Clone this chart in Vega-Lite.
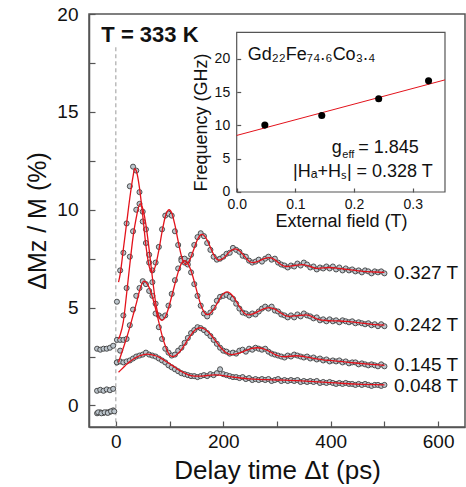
{
"$schema": "https://vega.github.io/schema/vega-lite/v6.json",
"width": 376, "height": 413,
"autosize": {"type": "none"},
"padding": {"left": 89, "top": 14, "right": 1, "bottom": 60},
"background": "white",
"config": {
 "font": "Liberation Sans",
 "view": {"stroke": "#555", "strokeWidth": 1.5},
 "axis": {"grid": false, "domainColor": "#555", "domainWidth": 1.5, "tickColor": "#555", "tickWidth": 1.2, "labelColor": "#111", "titleColor": "#111", "labelFont": "Liberation Sans", "titleFont": "Liberation Sans", "titleFontWeight": "normal"}
},
"datasets": {
 "rule": [{"t": 0, "v": 18.3, "v2": -1.1}],
 "lab": [{"t": 518, "v": 6.78, "txt": "0.327 T"}, {"t": 518, "v": 4.13, "txt": "0.242 T"}, {"t": 518, "v": 2.08, "txt": "0.145 T"}, {"t": 518, "v": 1.0, "txt": "0.048 T"}],
 "ttl": [{"t": -27, "v": 18.59, "txt": "T = 333 K"}],
 "pts": [
{"s":"A","t":-35,"v":2.9},{"s":"A","t":-29,"v":2.85},{"s":"A","t":-23,"v":2.9},{"s":"A","t":-17,"v":2.9},{"s":"A","t":-11,"v":2.95},{"s":"A","t":-5,"v":3.05},
{"s":"A","t":2,"v":5.3},{"s":"A","t":8,"v":6.9},{"s":"A","t":14,"v":7.8},{"s":"A","t":20,"v":9.3},{"s":"A","t":26,"v":11.2},{"s":"A","t":32,"v":12.2},{"s":"A","t":38,"v":12.0},{"s":"A","t":44,"v":10.9},{"s":"A","t":50,"v":9.4},{"s":"A","t":56,"v":8.3},{"s":"A","t":62,"v":7.3},{"s":"A","t":68,"v":6.9},{"s":"A","t":74,"v":7.3},{"s":"A","t":80,"v":8.1},{"s":"A","t":86,"v":9.0},{"s":"A","t":92,"v":9.7},{"s":"A","t":98,"v":9.8},{"s":"A","t":104,"v":9.7},{"s":"A","t":110,"v":8.9},{"s":"A","t":116,"v":8.2},{"s":"A","t":122,"v":7.5},{"s":"A","t":128,"v":7.3},{"s":"A","t":134,"v":7.4},{"s":"A","t":140,"v":7.7},{"s":"A","t":146,"v":8.2},{"s":"A","t":152,"v":8.6},{"s":"A","t":158,"v":8.8},{"s":"A","t":164,"v":8.65},{"s":"A","t":170,"v":8.3},{"s":"A","t":176,"v":7.95},{"s":"A","t":182,"v":7.6},{"s":"A","t":188,"v":7.45},{"s":"A","t":194,"v":7.5},{"s":"A","t":200,"v":7.6},{"s":"A","t":206,"v":7.75},{"s":"A","t":212,"v":7.8},{"s":"A","t":218,"v":8.05},{"s":"A","t":224,"v":7.95},{"s":"A","t":230,"v":7.85},{"s":"A","t":236,"v":7.65},{"s":"A","t":242,"v":7.6},{"s":"A","t":248,"v":7.4},{"s":"A","t":254,"v":7.3},{"s":"A","t":260,"v":7.35},{"s":"A","t":266,"v":7.45},{"s":"A","t":272,"v":7.35},{"s":"A","t":278,"v":7.5},{"s":"A","t":284,"v":7.6},{"s":"A","t":290,"v":7.45},{"s":"A","t":296,"v":7.5},{"s":"A","t":302,"v":7.3},{"s":"A","t":308,"v":7.2},{"s":"A","t":314,"v":7.15},{"s":"A","t":320,"v":7.05},{"s":"A","t":326,"v":7.15},{"s":"A","t":332,"v":7.1},{"s":"A","t":338,"v":7.25},{"s":"A","t":344,"v":7.15},{"s":"A","t":350,"v":7.3},{"s":"A","t":356,"v":7.2},{"s":"A","t":362,"v":7.05},{"s":"A","t":368,"v":7.1},{"s":"A","t":374,"v":6.95},{"s":"A","t":380,"v":7.05},{"s":"A","t":386,"v":7.0},{"s":"A","t":392,"v":7.1},{"s":"A","t":398,"v":7.0},{"s":"A","t":404,"v":7.1},{"s":"A","t":410,"v":6.95},{"s":"A","t":416,"v":7.05},{"s":"A","t":422,"v":6.9},{"s":"A","t":428,"v":7.0},{"s":"A","t":434,"v":6.9},{"s":"A","t":440,"v":6.95},{"s":"A","t":446,"v":6.85},{"s":"A","t":452,"v":6.9},{"s":"A","t":458,"v":6.8},{"s":"A","t":464,"v":6.9},{"s":"A","t":470,"v":6.85},{"s":"A","t":476,"v":6.75},{"s":"A","t":482,"v":6.85},{"s":"A","t":488,"v":6.8},{"s":"A","t":494,"v":6.85},{"s":"A","t":500,"v":6.75},
{"s":"B","t":-35,"v":0.75},{"s":"B","t":-29,"v":0.8},{"s":"B","t":-23,"v":0.75},{"s":"B","t":-17,"v":0.82},{"s":"B","t":-11,"v":0.78},{"s":"B","t":-5,"v":0.85},
{"s":"B","t":2,"v":3.35},{"s":"B","t":8,"v":3.35},{"s":"B","t":14,"v":4.6},{"s":"B","t":20,"v":6.0},{"s":"B","t":26,"v":7.6},{"s":"B","t":32,"v":8.9},{"s":"B","t":38,"v":10.0},{"s":"B","t":44,"v":10.3},{"s":"B","t":50,"v":9.9},{"s":"B","t":56,"v":9.0},{"s":"B","t":62,"v":7.7},{"s":"B","t":68,"v":6.3},{"s":"B","t":74,"v":5.2},{"s":"B","t":80,"v":4.6},{"s":"B","t":86,"v":4.5},{"s":"B","t":92,"v":4.6},{"s":"B","t":98,"v":5.1},{"s":"B","t":104,"v":5.7},{"s":"B","t":110,"v":6.4},{"s":"B","t":116,"v":7.0},{"s":"B","t":122,"v":7.4},{"s":"B","t":128,"v":7.5},{"s":"B","t":134,"v":7.2},{"s":"B","t":140,"v":6.8},{"s":"B","t":146,"v":6.2},{"s":"B","t":152,"v":5.6},{"s":"B","t":158,"v":5.1},{"s":"B","t":164,"v":4.7},{"s":"B","t":170,"v":4.55},{"s":"B","t":176,"v":4.75},{"s":"B","t":182,"v":5.0},{"s":"B","t":188,"v":5.35},{"s":"B","t":194,"v":5.55},{"s":"B","t":200,"v":5.6},{"s":"B","t":206,"v":5.65},{"s":"B","t":212,"v":5.55},{"s":"B","t":218,"v":5.45},{"s":"B","t":224,"v":5.2},{"s":"B","t":230,"v":4.95},{"s":"B","t":236,"v":4.75},{"s":"B","t":242,"v":4.7},{"s":"B","t":248,"v":4.6},{"s":"B","t":254,"v":4.7},{"s":"B","t":260,"v":4.65},{"s":"B","t":266,"v":4.8},{"s":"B","t":272,"v":4.95},{"s":"B","t":278,"v":5.05},{"s":"B","t":284,"v":4.95},{"s":"B","t":290,"v":5.05},{"s":"B","t":296,"v":4.85},{"s":"B","t":302,"v":4.8},{"s":"B","t":308,"v":4.65},{"s":"B","t":314,"v":4.6},{"s":"B","t":320,"v":4.5},{"s":"B","t":326,"v":4.6},{"s":"B","t":332,"v":4.5},{"s":"B","t":338,"v":4.65},{"s":"B","t":344,"v":4.55},{"s":"B","t":350,"v":4.7},{"s":"B","t":356,"v":4.6},{"s":"B","t":362,"v":4.55},{"s":"B","t":368,"v":4.45},{"s":"B","t":374,"v":4.5},{"s":"B","t":380,"v":4.35},{"s":"B","t":386,"v":4.4},{"s":"B","t":392,"v":4.3},{"s":"B","t":398,"v":4.4},{"s":"B","t":404,"v":4.3},{"s":"B","t":410,"v":4.35},{"s":"B","t":416,"v":4.25},{"s":"B","t":422,"v":4.35},{"s":"B","t":428,"v":4.3},{"s":"B","t":434,"v":4.25},{"s":"B","t":440,"v":4.3},{"s":"B","t":446,"v":4.2},{"s":"B","t":452,"v":4.25},{"s":"B","t":458,"v":4.2},{"s":"B","t":464,"v":4.15},{"s":"B","t":470,"v":4.2},{"s":"B","t":476,"v":4.1},{"s":"B","t":482,"v":4.15},{"s":"B","t":488,"v":4.05},{"s":"B","t":494,"v":4.15},{"s":"B","t":500,"v":4.05},
{"s":"C","t":-35,"v":-0.4},{"s":"C","t":-29,"v":-0.35},{"s":"C","t":-23,"v":-0.38},{"s":"C","t":-17,"v":-0.35},{"s":"C","t":-11,"v":-0.32},{"s":"C","t":-5,"v":-0.25},
{"s":"C","t":2,"v":2.2},{"s":"C","t":8,"v":2.8},{"s":"C","t":14,"v":3.35},{"s":"C","t":20,"v":3.4},{"s":"C","t":26,"v":4.1},{"s":"C","t":32,"v":4.9},{"s":"C","t":38,"v":5.6},{"s":"C","t":44,"v":6.0},{"s":"C","t":50,"v":6.35},{"s":"C","t":56,"v":6.2},{"s":"C","t":62,"v":5.85},{"s":"C","t":68,"v":5.6},{"s":"C","t":74,"v":4.7},{"s":"C","t":80,"v":4.0},{"s":"C","t":86,"v":3.4},{"s":"C","t":92,"v":2.9},{"s":"C","t":98,"v":2.7},{"s":"C","t":104,"v":2.55},{"s":"C","t":110,"v":2.6},{"s":"C","t":116,"v":2.8},{"s":"C","t":122,"v":2.95},{"s":"C","t":128,"v":3.2},{"s":"C","t":134,"v":3.45},{"s":"C","t":140,"v":3.7},{"s":"C","t":146,"v":3.85},{"s":"C","t":152,"v":4.0},{"s":"C","t":158,"v":3.95},{"s":"C","t":164,"v":3.85},{"s":"C","t":170,"v":3.7},{"s":"C","t":176,"v":3.55},{"s":"C","t":182,"v":3.35},{"s":"C","t":188,"v":3.15},{"s":"C","t":194,"v":2.95},{"s":"C","t":200,"v":2.8},{"s":"C","t":206,"v":2.75},{"s":"C","t":212,"v":2.65},{"s":"C","t":218,"v":2.7},{"s":"C","t":224,"v":2.65},{"s":"C","t":230,"v":2.8},{"s":"C","t":236,"v":2.85},{"s":"C","t":242,"v":2.75},{"s":"C","t":248,"v":2.9},{"s":"C","t":254,"v":2.85},{"s":"C","t":260,"v":2.95},{"s":"C","t":266,"v":2.9},{"s":"C","t":272,"v":2.85},{"s":"C","t":278,"v":2.9},{"s":"C","t":284,"v":2.75},{"s":"C","t":290,"v":2.65},{"s":"C","t":296,"v":2.6},{"s":"C","t":302,"v":2.55},{"s":"C","t":308,"v":2.5},{"s":"C","t":314,"v":2.45},{"s":"C","t":320,"v":2.55},{"s":"C","t":326,"v":2.5},{"s":"C","t":332,"v":2.6},{"s":"C","t":338,"v":2.55},{"s":"C","t":344,"v":2.5},{"s":"C","t":350,"v":2.45},{"s":"C","t":356,"v":2.5},{"s":"C","t":362,"v":2.4},{"s":"C","t":368,"v":2.45},{"s":"C","t":374,"v":2.35},{"s":"C","t":380,"v":2.4},{"s":"C","t":386,"v":2.3},{"s":"C","t":392,"v":2.35},{"s":"C","t":398,"v":2.25},{"s":"C","t":404,"v":2.3},{"s":"C","t":410,"v":2.25},{"s":"C","t":416,"v":2.3},{"s":"C","t":422,"v":2.2},{"s":"C","t":428,"v":2.25},{"s":"C","t":434,"v":2.15},{"s":"C","t":440,"v":2.2},{"s":"C","t":446,"v":2.2},{"s":"C","t":452,"v":2.1},{"s":"C","t":458,"v":2.15},{"s":"C","t":464,"v":2.1},{"s":"C","t":470,"v":2.05},{"s":"C","t":476,"v":2.1},{"s":"C","t":482,"v":2.05},{"s":"C","t":488,"v":2.0},{"s":"C","t":494,"v":2.1},{"s":"C","t":500,"v":2.0},
{"s":"D","t":-33,"v":-0.35},{"s":"D","t":-27,"v":-0.4},{"s":"D","t":-21,"v":-0.35},{"s":"D","t":-15,"v":-0.38},{"s":"D","t":-9,"v":-0.3},{"s":"D","t":-3,"v":-0.3},
{"s":"D","t":2,"v":2.2},{"s":"D","t":8,"v":2.25},{"s":"D","t":14,"v":2.2},{"s":"D","t":20,"v":2.25},{"s":"D","t":26,"v":2.3},{"s":"D","t":32,"v":2.4},{"s":"D","t":38,"v":2.5},{"s":"D","t":44,"v":2.55},{"s":"D","t":50,"v":2.6},{"s":"D","t":56,"v":2.7},{"s":"D","t":62,"v":2.6},{"s":"D","t":68,"v":2.55},{"s":"D","t":74,"v":2.5},{"s":"D","t":80,"v":2.4},{"s":"D","t":86,"v":2.3},{"s":"D","t":92,"v":2.2},{"s":"D","t":98,"v":2.05},{"s":"D","t":104,"v":1.95},{"s":"D","t":110,"v":1.85},{"s":"D","t":116,"v":1.75},{"s":"D","t":122,"v":1.65},{"s":"D","t":128,"v":1.6},{"s":"D","t":134,"v":1.55},{"s":"D","t":140,"v":1.5},{"s":"D","t":146,"v":1.5},{"s":"D","t":152,"v":1.45},{"s":"D","t":158,"v":1.5},{"s":"D","t":164,"v":1.55},{"s":"D","t":170,"v":1.5},{"s":"D","t":176,"v":1.6},{"s":"D","t":182,"v":1.55},{"s":"D","t":188,"v":1.65},{"s":"D","t":194,"v":1.85},{"s":"D","t":200,"v":1.6},{"s":"D","t":206,"v":1.55},{"s":"D","t":212,"v":1.5},{"s":"D","t":218,"v":1.45},{"s":"D","t":224,"v":1.45},{"s":"D","t":230,"v":1.4},{"s":"D","t":236,"v":1.45},{"s":"D","t":242,"v":1.35},{"s":"D","t":248,"v":1.4},{"s":"D","t":254,"v":1.3},{"s":"D","t":260,"v":1.35},{"s":"D","t":266,"v":1.3},{"s":"D","t":272,"v":1.35},{"s":"D","t":278,"v":1.3},{"s":"D","t":284,"v":1.35},{"s":"D","t":290,"v":1.25},{"s":"D","t":296,"v":1.3},{"s":"D","t":302,"v":1.35},{"s":"D","t":308,"v":1.25},{"s":"D","t":314,"v":1.3},{"s":"D","t":320,"v":1.25},{"s":"D","t":326,"v":1.3},{"s":"D","t":332,"v":1.25},{"s":"D","t":338,"v":1.3},{"s":"D","t":344,"v":1.2},{"s":"D","t":350,"v":1.25},{"s":"D","t":356,"v":1.2},{"s":"D","t":362,"v":1.25},{"s":"D","t":368,"v":1.2},{"s":"D","t":374,"v":1.25},{"s":"D","t":380,"v":1.15},{"s":"D","t":386,"v":1.2},{"s":"D","t":392,"v":1.15},{"s":"D","t":398,"v":1.2},{"s":"D","t":404,"v":1.15},{"s":"D","t":410,"v":1.1},{"s":"D","t":416,"v":1.15},{"s":"D","t":422,"v":1.1},{"s":"D","t":428,"v":1.15},{"s":"D","t":434,"v":1.1},{"s":"D","t":440,"v":1.1},{"s":"D","t":446,"v":1.05},{"s":"D","t":452,"v":1.1},{"s":"D","t":458,"v":1.05},{"s":"D","t":464,"v":1.1},{"s":"D","t":470,"v":1.05},{"s":"D","t":476,"v":1.0},{"s":"D","t":482,"v":1.05},{"s":"D","t":488,"v":1.05},{"s":"D","t":494,"v":1.0},{"s":"D","t":500,"v":1.05}
 ],
 "fit": [
{"s":"A","t":5,"v":6.3},{"s":"A","t":8,"v":6.7},{"s":"A","t":14,"v":8.0},{"s":"A","t":20,"v":9.3},{"s":"A","t":26,"v":10.6},{"s":"A","t":32,"v":11.7},{"s":"A","t":35,"v":12.1},{"s":"A","t":38,"v":11.99},{"s":"A","t":44,"v":11.12},{"s":"A","t":50,"v":9.71},{"s":"A","t":56,"v":8.16},{"s":"A","t":62,"v":7.11},{"s":"A","t":67,"v":6.8},{"s":"A","t":74,"v":7.16},{"s":"A","t":80,"v":7.93},{"s":"A","t":86,"v":8.87},{"s":"A","t":92,"v":9.64},{"s":"A","t":99,"v":10.0},{"s":"A","t":104,"v":9.83},{"s":"A","t":110,"v":9.21},{"s":"A","t":116,"v":8.39},{"s":"A","t":122,"v":7.64},{"s":"A","t":130,"v":7.2},{"s":"A","t":134,"v":7.27},{"s":"A","t":140,"v":7.59},{"s":"A","t":146,"v":8.05},{"s":"A","t":152,"v":8.48},{"s":"A","t":160,"v":8.74},{"s":"A","t":164,"v":8.69},{"s":"A","t":170,"v":8.45},{"s":"A","t":176,"v":8.08},{"s":"A","t":182,"v":7.71},{"s":"A","t":188,"v":7.47},{"s":"A","t":192,"v":7.42},{"s":"A","t":200,"v":7.52},{"s":"A","t":206,"v":7.68},{"s":"A","t":212,"v":7.86},{"s":"A","t":222,"v":8.0},{"s":"A","t":230,"v":7.9},{"s":"A","t":236,"v":7.73},{"s":"A","t":242,"v":7.54},{"s":"A","t":248,"v":7.37},{"s":"A","t":255,"v":7.3},{"s":"A","t":260,"v":7.32},{"s":"A","t":266,"v":7.38},{"s":"A","t":272,"v":7.45},{"s":"A","t":278,"v":7.52},{"s":"A","t":285,"v":7.55},{"s":"A","t":290,"v":7.53},{"s":"A","t":296,"v":7.44},{"s":"A","t":302,"v":7.31},{"s":"A","t":308,"v":7.19},{"s":"A","t":318,"v":7.1},{"s":"A","t":332,"v":7.15},{"s":"A","t":347,"v":7.2},{"s":"A","t":362,"v":7.1},{"s":"A","t":375,"v":7.0},{"s":"A","t":398,"v":7.05},{"s":"A","t":416,"v":7.0},{"s":"A","t":430,"v":6.95},{"s":"A","t":446,"v":6.9},{"s":"A","t":460,"v":6.85},{"s":"A","t":482,"v":6.82},{"s":"A","t":500,"v":6.8},
{"s":"B","t":5,"v":3.4},{"s":"B","t":8,"v":3.6},{"s":"B","t":14,"v":4.3},{"s":"B","t":20,"v":5.7},{"s":"B","t":26,"v":7.2},{"s":"B","t":32,"v":8.6},{"s":"B","t":38,"v":9.6},{"s":"B","t":45,"v":10.3},{"s":"B","t":50,"v":10.07},{"s":"B","t":56,"v":9.23},{"s":"B","t":62,"v":7.96},{"s":"B","t":68,"v":6.54},{"s":"B","t":74,"v":5.27},{"s":"B","t":80,"v":4.55},{"s":"B","t":86,"v":4.35},{"s":"B","t":92,"v":4.52},{"s":"B","t":98,"v":4.97},{"s":"B","t":104,"v":5.58},{"s":"B","t":110,"v":6.21},{"s":"B","t":116,"v":6.81},{"s":"B","t":122,"v":7.25},{"s":"B","t":128,"v":7.4},{"s":"B","t":134,"v":7.26},{"s":"B","t":140,"v":6.88},{"s":"B","t":146,"v":6.33},{"s":"B","t":152,"v":5.71},{"s":"B","t":158,"v":5.16},{"s":"B","t":164,"v":4.78},{"s":"B","t":170,"v":4.64},{"s":"B","t":176,"v":4.71},{"s":"B","t":182,"v":4.91},{"s":"B","t":188,"v":5.19},{"s":"B","t":194,"v":5.48},{"s":"B","t":200,"v":5.7},{"s":"B","t":207,"v":5.8},{"s":"B","t":212,"v":5.75},{"s":"B","t":218,"v":5.58},{"s":"B","t":224,"v":5.33},{"s":"B","t":230,"v":5.05},{"s":"B","t":236,"v":4.81},{"s":"B","t":242,"v":4.66},{"s":"B","t":247,"v":4.63},{"s":"B","t":254,"v":4.67},{"s":"B","t":260,"v":4.73},{"s":"B","t":266,"v":4.82},{"s":"B","t":272,"v":4.9},{"s":"B","t":278,"v":4.96},{"s":"B","t":286,"v":5.0},{"s":"B","t":296,"v":4.92},{"s":"B","t":302,"v":4.82},{"s":"B","t":308,"v":4.71},{"s":"B","t":314,"v":4.61},{"s":"B","t":323,"v":4.55},{"s":"B","t":338,"v":4.59},{"s":"B","t":354,"v":4.63},{"s":"B","t":362,"v":4.58},{"s":"B","t":368,"v":4.5},{"s":"B","t":374,"v":4.43},{"s":"B","t":380,"v":4.37},{"s":"B","t":392,"v":4.34},{"s":"B","t":410,"v":4.32},{"s":"B","t":428,"v":4.3},{"s":"B","t":446,"v":4.25},{"s":"B","t":464,"v":4.19},{"s":"B","t":482,"v":4.13},{"s":"B","t":500,"v":4.1},
{"s":"C","t":5,"v":2.2},{"s":"C","t":8,"v":2.45},{"s":"C","t":14,"v":2.95},{"s":"C","t":20,"v":3.45},{"s":"C","t":26,"v":4.0},{"s":"C","t":32,"v":4.6},{"s":"C","t":38,"v":5.2},{"s":"C","t":44,"v":5.85},{"s":"C","t":52,"v":6.35},{"s":"C","t":56,"v":6.3},{"s":"C","t":62,"v":6.03},{"s":"C","t":68,"v":5.55},{"s":"C","t":74,"v":4.94},{"s":"C","t":80,"v":4.26},{"s":"C","t":86,"v":3.58},{"s":"C","t":92,"v":3.05},{"s":"C","t":98,"v":2.66},{"s":"C","t":105,"v":2.5},{"s":"C","t":110,"v":2.53},{"s":"C","t":116,"v":2.66},{"s":"C","t":122,"v":2.85},{"s":"C","t":128,"v":3.1},{"s":"C","t":134,"v":3.37},{"s":"C","t":140,"v":3.61},{"s":"C","t":146,"v":3.82},{"s":"C","t":152,"v":3.94},{"s":"C","t":158,"v":3.97},{"s":"C","t":164,"v":3.92},{"s":"C","t":170,"v":3.81},{"s":"C","t":176,"v":3.64},{"s":"C","t":182,"v":3.43},{"s":"C","t":188,"v":3.21},{"s":"C","t":194,"v":3.0},{"s":"C","t":200,"v":2.82},{"s":"C","t":206,"v":2.68},{"s":"C","t":215,"v":2.6},{"s":"C","t":224,"v":2.63},{"s":"C","t":230,"v":2.68},{"s":"C","t":236,"v":2.74},{"s":"C","t":242,"v":2.81},{"s":"C","t":248,"v":2.87},{"s":"C","t":254,"v":2.92},{"s":"C","t":263,"v":2.95},{"s":"C","t":272,"v":2.92},{"s":"C","t":278,"v":2.86},{"s":"C","t":284,"v":2.79},{"s":"C","t":290,"v":2.7},{"s":"C","t":296,"v":2.61},{"s":"C","t":302,"v":2.54},{"s":"C","t":314,"v":2.49},{"s":"C","t":335,"v":2.54},{"s":"C","t":350,"v":2.5},{"s":"C","t":362,"v":2.44},{"s":"C","t":374,"v":2.38},{"s":"C","t":386,"v":2.33},{"s":"C","t":398,"v":2.3},{"s":"C","t":422,"v":2.24},{"s":"C","t":446,"v":2.17},{"s":"C","t":470,"v":2.11},{"s":"C","t":500,"v":2.05},
{"s":"D","t":5,"v":1.7},{"s":"D","t":8,"v":1.78},{"s":"D","t":14,"v":1.94},{"s":"D","t":20,"v":2.1},{"s":"D","t":26,"v":2.24},{"s":"D","t":32,"v":2.36},{"s":"D","t":38,"v":2.46},{"s":"D","t":44,"v":2.54},{"s":"D","t":50,"v":2.59},{"s":"D","t":58,"v":2.62},{"s":"D","t":68,"v":2.59},{"s":"D","t":74,"v":2.54},{"s":"D","t":80,"v":2.47},{"s":"D","t":86,"v":2.38},{"s":"D","t":92,"v":2.27},{"s":"D","t":98,"v":2.17},{"s":"D","t":104,"v":2.06},{"s":"D","t":110,"v":1.95},{"s":"D","t":116,"v":1.83},{"s":"D","t":122,"v":1.74},{"s":"D","t":128,"v":1.65},{"s":"D","t":134,"v":1.58},{"s":"D","t":140,"v":1.53},{"s":"D","t":152,"v":1.5},{"s":"D","t":164,"v":1.51},{"s":"D","t":176,"v":1.55},{"s":"D","t":186,"v":1.56},{"s":"D","t":200,"v":1.53},{"s":"D","t":212,"v":1.47},{"s":"D","t":224,"v":1.43},{"s":"D","t":236,"v":1.39},{"s":"D","t":248,"v":1.36},{"s":"D","t":266,"v":1.33},{"s":"D","t":290,"v":1.31},{"s":"D","t":314,"v":1.29},{"s":"D","t":338,"v":1.27},{"s":"D","t":362,"v":1.23},{"s":"D","t":386,"v":1.19},{"s":"D","t":410,"v":1.15},{"s":"D","t":434,"v":1.11},{"s":"D","t":458,"v":1.08},{"s":"D","t":482,"v":1.06},{"s":"D","t":500,"v":1.05}
 ],
 "frame": [{"x": 0, "x2": 0.355, "y": 0, "y2": 24}],
 "iline": [{"x": 0, "y": 8.5}, {"x": 0.355, "y": 16.85}],
 "ipts": [{"x": 0.048, "y": 10.05}, {"x": 0.145, "y": 11.5}, {"x": 0.242, "y": 14.0}, {"x": 0.327, "y": 16.7}],
 "itxt": [
  {"id": "mat", "x": 0.019, "y": 19.84, "txt": "Gd₂₂Fe₇₄.₆Co₃.₄"},
  {"id": "g", "x": 0.162, "y": 5.8, "txt": "g"},
  {"id": "eff", "x": 0.18, "y": 5.06, "txt": "eff"},
  {"id": "geq", "x": 0.207, "y": 5.8, "txt": "= 1.845"},
  {"id": "h", "x": 0.096, "y": 2.3, "txt": "|Hₐ+Hₛ| = 0.328 T"}
 ]
},
"layer": [
 {
  "encoding": {
   "x": {"field": "t", "type": "quantitative", "scale": {"domain": [-50, 650], "nice": false, "zero": false},
         "axis": {"values": [0, 100, 200, 300, 400, 500, 600], "labelExpr": "datum.value % 200 === 0 ? datum.label : ''", "tickSize": -6, "labelPadding": 11, "labelFontSize": 19, "title": "Delay time Δt (ps)", "titleFontSize": 26, "titlePadding": 6}},
   "y": {"field": "v", "type": "quantitative", "scale": {"domain": [-1.1, 20], "nice": false, "zero": false},
         "axis": {"values": [0, 2.5, 5, 7.5, 10, 12.5, 15, 17.5, 20], "labelExpr": "datum.value % 5 === 0 ? datum.label : ''", "tickSize": -6, "labelPadding": 17, "labelFontSize": 19, "title": "ΔMz / M  (%)", "titleFontSize": 25, "titlePadding": 6}}
  },
  "layer": [
   {"data": {"name": "rule"}, "mark": {"type": "rule", "color": "#999", "strokeDash": [4, 3], "strokeWidth": 1}, "encoding": {"y2": {"field": "v2"}}},
   {"data": {"name": "pts"}, "mark": {"type": "circle", "fill": "#bcc5cc", "stroke": "#2e2e2e", "strokeWidth": 0.8, "size": 26, "opacity": 1}},
   {"data": {"name": "fit"}, "mark": {"type": "line", "color": "#e3121b", "strokeWidth": 1.3, "interpolate": "monotone"}, "encoding": {"detail": {"field": "s"}}},
   {"data": {"name": "lab"}, "mark": {"type": "text", "align": "left", "baseline": "middle", "fontSize": 19, "color": "#111"}, "encoding": {"text": {"field": "txt"}}},
   {"data": {"name": "ttl"}, "mark": {"type": "text", "align": "left", "baseline": "alphabetic", "fontSize": 22, "fontWeight": "bold", "color": "#111"}, "encoding": {"text": {"field": "txt"}}}
  ]
 },
 {
  "encoding": {
   "x": {"field": "x", "type": "quantitative", "scale": {"domain": [-0.2517, 0.3891], "nice": false, "zero": false},
         "axis": {"orient": "bottom", "offset": -235, "values": [0, 0.1, 0.2, 0.3], "format": ".1f", "domain": false, "tickSize": -4, "labelPadding": 9, "labelFontSize": 14, "title": "External field (T)", "titleFontSize": 18, "titleX": 252, "titlePadding": 1, "zindex": 1}},
   "y": {"field": "y", "type": "quantitative", "scale": {"domain": [-35.32, 26.75], "nice": false, "zero": false},
         "axis": {"orient": "left", "offset": -147.7, "values": [0, 5, 10, 15, 20], "domain": false, "tickSize": -4, "labelPadding": 11, "labelFontSize": 14, "title": "Frequency (GHz)", "titleFontSize": 18, "titleY": 108, "titlePadding": 4, "zindex": 1}}
  },
  "layer": [
   {"data": {"name": "frame"}, "mark": {"type": "rect", "fill": "white", "stroke": "#555", "strokeWidth": 1.2}, "encoding": {"x2": {"field": "x2"}, "y2": {"field": "y2"}}},
   {"data": {"name": "iline"}, "mark": {"type": "line", "color": "#e3121b", "strokeWidth": 1}},
   {"data": {"name": "ipts"}, "mark": {"type": "circle", "color": "#000", "size": 50, "opacity": 1}},
   {"data": {"name": "itxt"}, "transform": [{"filter": "datum.id !== 'eff'"}], "mark": {"type": "text", "align": "left", "baseline": "alphabetic", "fontSize": 18, "color": "#111"}, "encoding": {"text": {"field": "txt"}}},
   {"data": {"name": "itxt"}, "transform": [{"filter": "datum.id === 'eff'"}], "mark": {"type": "text", "align": "left", "baseline": "alphabetic", "fontSize": 11, "color": "#111"}, "encoding": {"text": {"field": "txt"}}}
  ]
 }
],
"resolve": {"scale": {"x": "independent", "y": "independent"}, "axis": {"x": "independent", "y": "independent"}}
}
